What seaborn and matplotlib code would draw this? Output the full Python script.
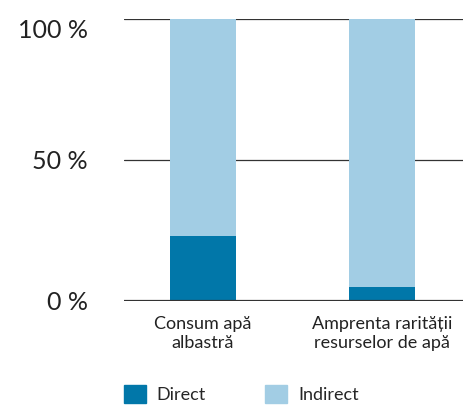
import matplotlib
matplotlib.use("Agg")
import matplotlib.pyplot as plt
import seaborn as sns
import pandas as pd
from matplotlib.patches import Patch

# date (procente)
categorii = ["Consum apă\nalbastră", "Amprenta rarității\nresurselor de apă"]
direct = [23, 5]
indirect = [77, 95]
serii = ["Direct", "Indirect"]
y_ticks = [0, 50, 100]
y_labels = ["0 %", "50 %", "100 %"]

culoare_direct = "#0177a9"
culoare_indirect = "#a2cde4"

sns.set_style("white")
plt.rcParams["font.family"] = ["Lato", "DejaVu Sans"]

df = pd.DataFrame({"categorie": categorii, "direct": direct, "indirect": indirect})
df["total"] = df["direct"] + df["indirect"]

fig = plt.figure(figsize=(4.63, 4.05), dpi=100)
ax = fig.add_axes([0.268, 0.257, 0.732, 0.696])

# bara totala (indirect) si peste ea partea directa
sns.barplot(data=df, x="categorie", y="total", color=culoare_indirect,
            width=0.37, saturation=1, linewidth=0, ax=ax, zorder=2)
sns.barplot(data=df, x="categorie", y="direct", color=culoare_direct,
            width=0.37, saturation=1, linewidth=0, ax=ax, zorder=3)

ax.set_xlim(-0.441, 1.453)
ax.set_ylim(0, 100)
ax.set_yticks(y_ticks)
ax.set_yticklabels(y_labels, fontsize=18, color="#222222")
ax.tick_params(axis="y", length=0, pad=26)
ax.tick_params(axis="x", length=0, pad=11, labelsize=13, labelcolor="#222222")
for lbl in ax.get_xticklabels():
    lbl.set_linespacing(1.2)
# eticheta de sus sta sub linie, ca in original
ax.get_yticklabels()[-1].set_verticalalignment("top")

for v in [50, 100]:
    ax.axhline(v, color="#333333", lw=0.9, zorder=1)
ax.axhline(0, color="#333333", lw=1.6, zorder=4)

sns.despine(ax=ax, left=True, right=True, top=True, bottom=True)
ax.set_xlabel("")
ax.set_ylabel("")

handles = [Patch(color=culoare_direct, label=serii[0]),
           Patch(color=culoare_indirect, label=serii[1])]
fig.legend(handles=handles, loc="upper left", bbox_to_anchor=(0.268, 0.05),
           ncol=2, frameon=False, fontsize=13, handlelength=1.2,
           handleheight=1.2, columnspacing=3.3, handletextpad=0.6,
           borderaxespad=0, borderpad=0)

fig.savefig("out.png", dpi=100)
